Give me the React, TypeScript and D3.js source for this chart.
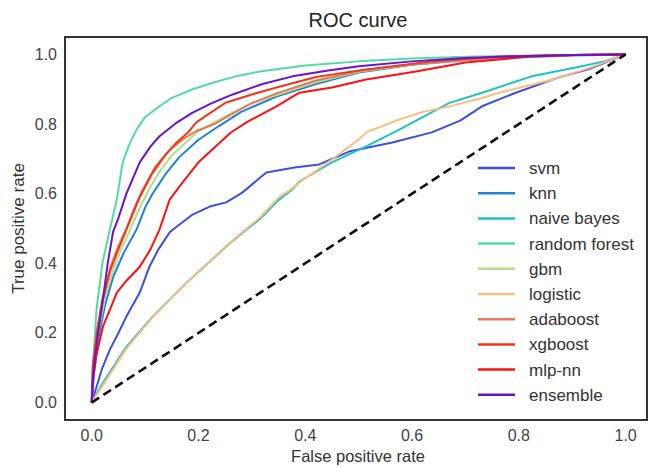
import React from "react";
import * as d3 from "d3";

const W = 649;
const H = 467;

const models = ["svm", "knn", "naive bayes", "random forest", "gbm", "logistic", "adaboost", "xgboost", "mlp-nn", "ensemble"];
const colors = ["#3c4fe0", "#1f82d0", "#22c1c6", "#52dba2", "#b4dc8e", "#f8bf80", "#e27a58", "#f2361c", "#ff1010", "#6814cf"];

const svmFpr = [0, 0.01, 0.02, 0.034, 0.05, 0.065, 0.09, 0.108, 0.125, 0.146, 0.159, 0.189, 0.221, 0.252, 0.282, 0.327, 0.38, 0.426, 0.482, 0.563, 0.637, 0.69, 0.731, 0.794, 0.875, 0.93, 1];
const svmTpr = [0, 0.05, 0.1, 0.152, 0.2, 0.247, 0.316, 0.39, 0.44, 0.489, 0.505, 0.54, 0.563, 0.575, 0.603, 0.661, 0.675, 0.684, 0.721, 0.747, 0.776, 0.81, 0.851, 0.89, 0.934, 0.957, 1];

const knnFpr = [0, 0.004, 0.012, 0.025, 0.04, 0.06, 0.084, 0.1, 0.114, 0.14, 0.164, 0.2, 0.239, 0.28, 0.346, 0.42, 0.5, 0.6, 0.7, 0.8, 0.9, 1];
const knnTpr = [0, 0.08, 0.18, 0.28, 0.36, 0.43, 0.497, 0.56, 0.6, 0.66, 0.705, 0.755, 0.795, 0.835, 0.879, 0.915, 0.948, 0.97, 0.983, 0.992, 0.997, 1];

const nbFpr = [0, 0.021, 0.065, 0.114, 0.178, 0.252, 0.29, 0.314, 0.351, 0.376, 0.389, 0.45, 0.514, 0.576, 0.62, 0.669, 0.731, 0.824, 0.918, 0.96, 1];
const nbTpr = [0, 0.057, 0.16, 0.247, 0.345, 0.448, 0.497, 0.526, 0.583, 0.612, 0.635, 0.69, 0.736, 0.784, 0.82, 0.86, 0.89, 0.937, 0.966, 0.98, 1];

const rfFpr = [0, 0.003, 0.009, 0.02, 0.034, 0.047, 0.058, 0.07, 0.084, 0.1, 0.127, 0.15, 0.189, 0.23, 0.27, 0.314, 0.4, 0.5, 0.6, 0.7, 0.8, 0.9, 1];
const rfTpr = [0, 0.12, 0.267, 0.4, 0.497, 0.583, 0.69, 0.74, 0.784, 0.82, 0.851, 0.875, 0.9, 0.92, 0.937, 0.951, 0.968, 0.98, 0.988, 0.993, 0.996, 0.998, 1];

const gbmFpr = [0, 0.003, 0.012, 0.025, 0.04, 0.055, 0.07, 0.09, 0.11, 0.13, 0.15, 0.175, 0.2, 0.23, 0.26, 0.3, 0.35, 0.42, 0.5, 0.6, 0.7, 0.8, 0.9, 1];
const gbmTpr = [0, 0.09, 0.2, 0.3, 0.38, 0.44, 0.49, 0.56, 0.62, 0.67, 0.71, 0.745, 0.78, 0.805, 0.83, 0.86, 0.885, 0.92, 0.95, 0.972, 0.985, 0.993, 0.998, 1];

const lrFpr = [0, 0.021, 0.065, 0.114, 0.178, 0.252, 0.29, 0.314, 0.351, 0.376, 0.389, 0.45, 0.5, 0.514, 0.576, 0.62, 0.669, 0.731, 0.763, 0.856, 0.93, 1];
const lrTpr = [0, 0.05, 0.155, 0.245, 0.345, 0.45, 0.5, 0.53, 0.59, 0.615, 0.632, 0.698, 0.756, 0.776, 0.813, 0.835, 0.85, 0.875, 0.89, 0.925, 0.96, 1];

const adaFpr = [0, 0.002, 0.01, 0.02, 0.035, 0.05, 0.065, 0.08, 0.095, 0.12, 0.146, 0.17, 0.196, 0.23, 0.258, 0.3, 0.346, 0.42, 0.5, 0.6, 0.7, 0.8, 0.9, 1];
const adaTpr = [0, 0.11, 0.21, 0.3, 0.39, 0.45, 0.5, 0.56, 0.61, 0.68, 0.725, 0.755, 0.78, 0.8, 0.825, 0.86, 0.888, 0.925, 0.952, 0.972, 0.985, 0.993, 0.998, 1];

const xgbFpr = [0, 0.002, 0.01, 0.02, 0.035, 0.05, 0.065, 0.09, 0.114, 0.14, 0.159, 0.18, 0.196, 0.22, 0.252, 0.3, 0.346, 0.42, 0.514, 0.637, 0.763, 0.9, 1];
const xgbTpr = [0, 0.1, 0.2, 0.29, 0.38, 0.44, 0.497, 0.59, 0.66, 0.715, 0.747, 0.775, 0.805, 0.83, 0.862, 0.885, 0.905, 0.935, 0.957, 0.98, 0.994, 0.998, 1];

const mlpFpr = [0, 0.002, 0.008, 0.021, 0.035, 0.047, 0.065, 0.09, 0.11, 0.127, 0.146, 0.17, 0.2, 0.226, 0.26, 0.29, 0.346, 0.389, 0.45, 0.514, 0.607, 0.7, 0.824, 0.9, 1];
const mlpTpr = [0, 0.057, 0.13, 0.218, 0.27, 0.316, 0.35, 0.39, 0.44, 0.497, 0.583, 0.632, 0.69, 0.727, 0.775, 0.805, 0.851, 0.89, 0.905, 0.928, 0.951, 0.977, 0.994, 0.998, 1];

const ensFpr = [0, 0.004, 0.012, 0.021, 0.03, 0.04, 0.05, 0.065, 0.09, 0.11, 0.127, 0.16, 0.189, 0.225, 0.264, 0.32, 0.376, 0.44, 0.5, 0.6, 0.7, 0.8, 0.9, 1];
const ensTpr = [0, 0.1, 0.2, 0.296, 0.4, 0.49, 0.53, 0.6, 0.69, 0.735, 0.765, 0.805, 0.833, 0.86, 0.885, 0.915, 0.937, 0.953, 0.966, 0.98, 0.99, 0.995, 0.998, 1];

const fprs = [svmFpr, knnFpr, nbFpr, rfFpr, gbmFpr, lrFpr, adaFpr, xgbFpr, mlpFpr, ensFpr];
const tprs = [svmTpr, knnTpr, nbTpr, rfTpr, gbmTpr, lrTpr, adaTpr, xgbTpr, mlpTpr, ensTpr];

const tickValues = [0, 0.2, 0.4, 0.6, 0.8, 1.0];
const diagonal = [0, 1];

const title = "ROC curve";
const xLabel = "False positive rate";
const yLabel = "True positive rate";

const FONT = "'Liberation Sans', Arial, Helvetica, sans-serif";

export default function App() {
  const left = 65;
  const right = 647;
  const top = 37;
  const bottom = 420;
  const x = d3.scaleLinear().domain([-0.05, 1.04]).range([left, right]);
  const y = d3.scaleLinear().domain([-0.05, 1.05]).range([bottom, top]);

  const line = d3
    .line<[number, number]>()
    .x((d) => x(d[0]))
    .y((d) => y(d[1]));

  const legendX = 478;
  const legendY0 = 168;
  const legendStep = 25.2;

  return (
    <svg width={W} height={H} style={{ position: "absolute", left: 0, top: 0, background: "#fff" }}>
      <rect x={0} y={0} width={W} height={H} fill="#fff" />
      <text x={(left + right) / 2 + 2} y={27} textAnchor="middle" fontFamily={FONT} fontSize={20} fill="#222">
        {title}
      </text>
      {models.map((m, i) => (
        <path
          key={m}
          d={line(fprs[i].map((f, j) => [f, tprs[i][j]] as [number, number])) || ""}
          fill="none"
          stroke={colors[i]}
          strokeWidth={2}
          strokeLinejoin="round"
        />
      ))}
      <path
        d={line(diagonal.map((v) => [v, v] as [number, number])) || ""}
        fill="none"
        stroke="#111"
        strokeWidth={2.6}
        strokeDasharray="9,5"
      />
      <rect x={left} y={top} width={right - left} height={bottom - top} fill="none" stroke="#333" strokeWidth={2} />
      {tickValues.map((t) => (
        <text key={"x" + t} x={x(t)} y={441} textAnchor="middle" fontFamily={FONT} fontSize={16} fill="#444">
          {t.toFixed(1)}
        </text>
      ))}
      {tickValues.map((t) => (
        <text key={"y" + t} x={57} y={y(t) + 5.5} textAnchor="end" fontFamily={FONT} fontSize={16} fill="#444">
          {t.toFixed(1)}
        </text>
      ))}
      <text x={(left + right) / 2 + 2} y={462} textAnchor="middle" fontFamily={FONT} fontSize={16.5} fill="#333">
        {xLabel}
      </text>
      <text
        transform={`translate(24,${(top + bottom) / 2}) rotate(-90)`}
        textAnchor="middle"
        fontFamily={FONT}
        fontSize={17}
        fill="#333"
      >
        {yLabel}
      </text>
      {models.map((m, i) => (
        <g key={"leg" + m} transform={`translate(${legendX},${legendY0 + i * legendStep})`}>
          <line x1={0} x2={37} y1={0} y2={0} stroke={colors[i]} strokeWidth={2.5} />
          <text x={51} y={6} fontFamily={FONT} fontSize={17} fill="#333">
            {m}
          </text>
        </g>
      ))}
    </svg>
  );
}
